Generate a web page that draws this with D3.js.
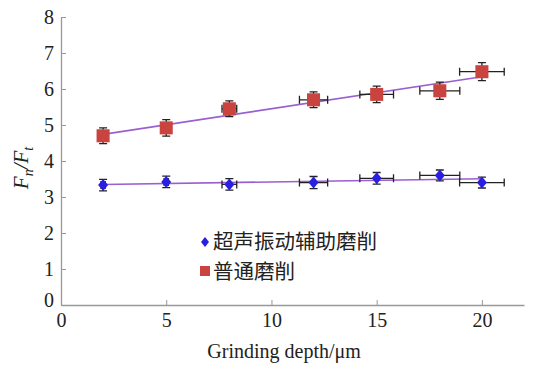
<!DOCTYPE html>
<html>
<head>
<meta charset="utf-8">
<script src="https://cdn.jsdelivr.net/npm/d3@7/dist/d3.min.js"></script>
<style>
  body { margin: 0; background: #fff; }
  text { font-family: "Liberation Serif", "DejaVu Serif", serif; }
</style>
</head>
<body>
<div id="chart"></div>
<script>
'use strict';

// grinding depth (um)
const depths = [2, 5, 8, 12, 15, 18, 20];
// horizontal error half-widths
const xErr = [0.1, 0.1, 0.35, 0.67, 0.8, 0.95, 1.06];

// ultrasonic assisted grinding
const ultraVals = [3.33, 3.42, 3.35, 3.40, 3.52, 3.60, 3.40];
const ultraErr = [0.16, 0.16, 0.16, 0.17, 0.16, 0.15, 0.15];

// ordinary grinding
const normalVals = [4.70, 4.92, 5.45, 5.70, 5.85, 5.95, 6.48];
const normalErr = [0.22, 0.23, 0.22, 0.22, 0.23, 0.24, 0.25];

const xTicks = [0, 5, 10, 15, 20];
const yTicks = [0, 1, 2, 3, 4, 5, 6, 7, 8];
const legendNames = ['超声振动辅助磨削', '普通磨削'];

let margin = {top: 17, right: 24, bottom: 63, left: 61},
  width = 548 - margin.left - margin.right,
  height = 368 - margin.top - margin.bottom;

let svg = d3.select('#chart').append('svg')
  .attr('width', 548)
  .attr('height', 368);

let g = svg.append('g').attr('transform', 'translate(' + margin.left + ',' + margin.top + ')');

let xScale = d3.scaleLinear().domain([0, 22]).range([0, width]);
let yScale = d3.scaleLinear().domain([0, 8]).range([height, 0]);

// axes, ticks pointing inward like matlab
let xAxis = g.append('g')
  .attr('transform', 'translate(0,' + height + ')')
  .call(d3.axisBottom(xScale).tickValues(xTicks).tickSizeInner(-5).tickSizeOuter(0).tickPadding(8));
let yAxis = g.append('g')
  .call(d3.axisLeft(yScale).tickValues(yTicks).tickSizeInner(-5).tickSizeOuter(0).tickPadding(7));

[xAxis, yAxis].forEach(a => {
  a.select('.domain').attr('stroke', '#999').attr('stroke-width', 1.3);
  a.selectAll('.tick line').attr('stroke', '#999');
  a.selectAll('.tick text')
    .attr('fill', '#222')
    .style('font-size', '20px')
    .style('font-family', '"Liberation Serif", serif');
});
yAxis.selectAll('.tick text').filter(d => d === 0).attr('dy', '0.05em');

// linear fit from data
const fit = (xs, ys) => {
  let mx = d3.mean(xs), my = d3.mean(ys);
  let num = d3.sum(xs, (x, i) => (x - mx) * (ys[i] - my));
  let den = d3.sum(xs, x => (x - mx) * (x - mx));
  let k = num / den;
  return x => my + k * (x - mx);
};

const drawSeries = (vals, errs, kind, color) => {
  let f = fit(depths, vals);
  let ends = [depths[0], depths[depths.length - 1]];
  g.append('path')
    .datum(ends)
    .attr('fill', 'none')
    .attr('stroke', '#9a5fd0')
    .attr('stroke-width', 1.6)
    .attr('d', d3.line().x(d => xScale(d)).y(d => yScale(f(d))));

  let pts = g.append('g').selectAll('g').data(depths).join('g');
  // vertical error bars
  pts.append('path')
    .attr('stroke', '#222').attr('stroke-width', 1.3).attr('fill', 'none')
    .attr('d', (d, i) => {
      let x = xScale(d), y0 = yScale(vals[i] - errs[i]), y1 = yScale(vals[i] + errs[i]);
      return 'M' + x + ',' + y0 + 'V' + y1 +
        'M' + (x - 4) + ',' + y0 + 'H' + (x + 4) +
        'M' + (x - 4) + ',' + y1 + 'H' + (x + 4);
    });
  // horizontal error bars
  pts.append('path')
    .attr('stroke', '#222').attr('stroke-width', 1.3).attr('fill', 'none')
    .attr('d', (d, i) => {
      let y = yScale(vals[i]), x0 = xScale(d - xErr[i]), x1 = xScale(d + xErr[i]);
      return 'M' + x0 + ',' + y + 'H' + x1 +
        'M' + x0 + ',' + (y - 4) + 'V' + (y + 4) +
        'M' + x1 + ',' + (y - 4) + 'V' + (y + 4);
    });
  pts.append('path')
    .attr('transform', (d, i) => 'translate(' + xScale(d) + ',' + yScale(vals[i]) + ')')
    .attr('fill', color)
    .attr('d', kind === 'square'
      ? d3.symbol(d3.symbolSquare, 170)()
      : 'M0,-6L5,0L0,6L-5,0Z');
};

drawSeries(ultraVals, ultraErr, 'diamond', '#2a1ee0');
drawSeries(normalVals, normalErr, 'square', '#c9433f');

// legend
let legend = svg.append('g');
legend.append('path')
  .attr('transform', 'translate(205,242)')
  .attr('fill', '#2a1ee0')
  .attr('d', 'M0,-5L4,0L0,5L-4,0Z');
legend.append('rect')
  .attr('x', 200).attr('y', 266).attr('width', 10).attr('height', 10)
  .attr('fill', '#c9433f');
legend.selectAll('text.lg').data(legendNames).join('text')
  .attr('class', 'lg')
  .attr('x', 213)
  .attr('y', (d, i) => 242 + i * 30)
  .attr('dy', '0.35em')
  .attr('fill', '#222')
  .style('font-family', '"Noto Sans CJK SC", sans-serif')
  .style('font-size', '20.5px')
  .text(d => d);

// axis titles
svg.append('text')
  .attr('x', margin.left + xScale(10.6))
  .attr('y', 358)
  .attr('text-anchor', 'middle')
  .attr('fill', '#222')
  .style('font-size', '20px')
  .text('Grinding depth/μm');

let yt = svg.append('text')
  .attr('transform', 'translate(28,168) rotate(-90)')
  .attr('text-anchor', 'middle')
  .attr('fill', '#222')
  .style('font-size', '21px')
  .style('font-style', 'italic');
yt.append('tspan').text('F');
yt.append('tspan').attr('dy', 5).style('font-size', '14px').text('n');
yt.append('tspan').attr('dy', -5).text('/F');
yt.append('tspan').attr('dy', 5).style('font-size', '14px').text('t');
</script>
</body>
</html>
